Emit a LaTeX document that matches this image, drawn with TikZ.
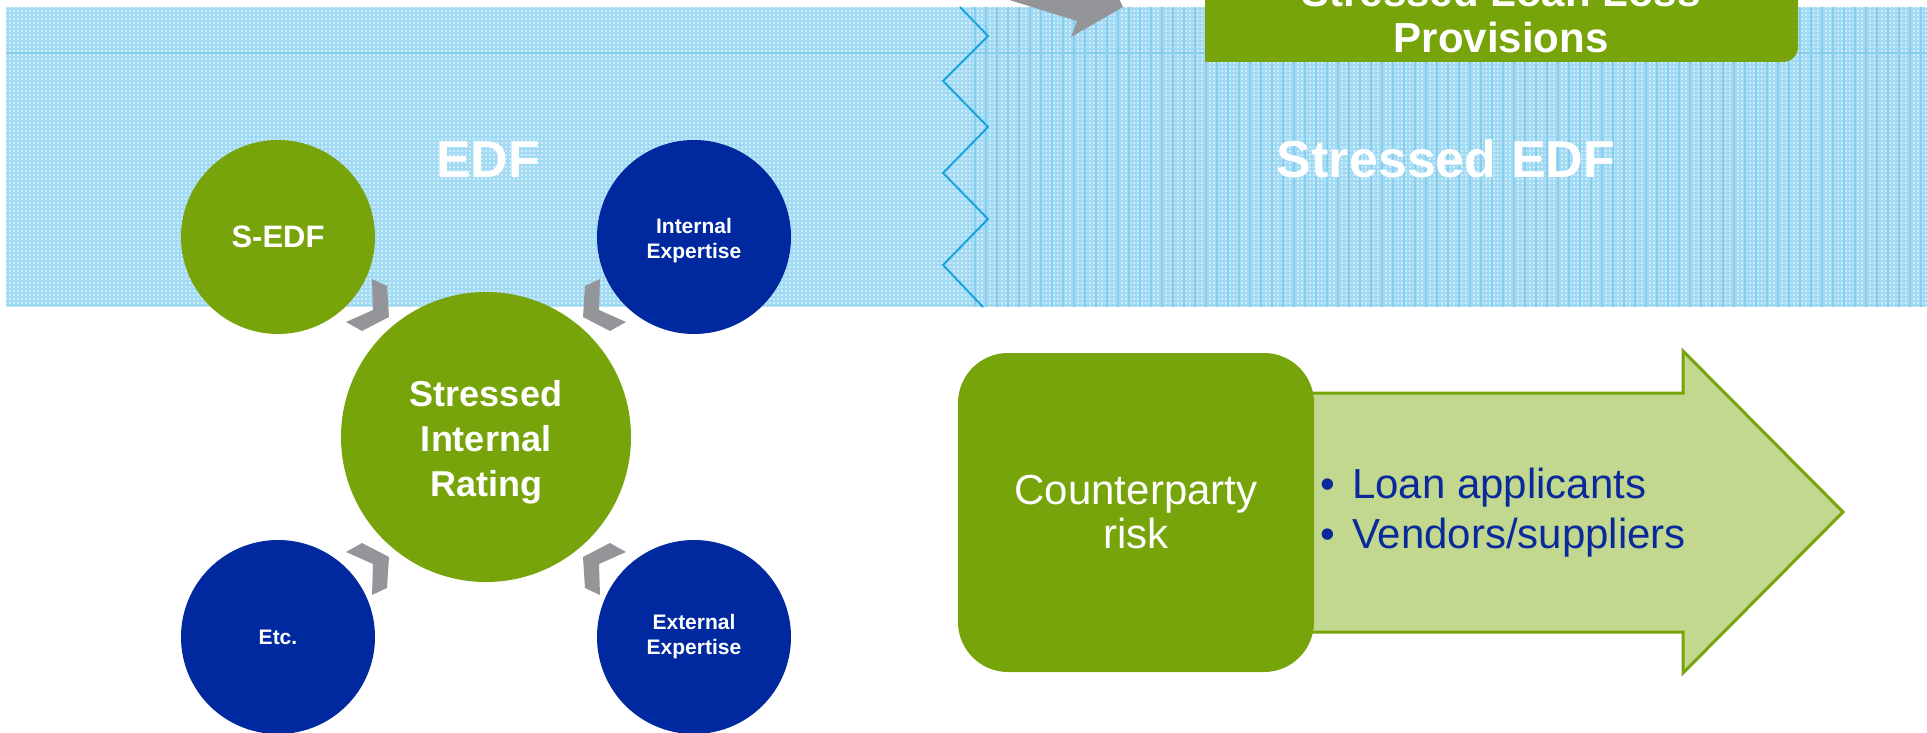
\documentclass[tikz,border=0pt]{standalone}
\usepackage{fontspec}
\setmainfont{Liberation Sans}
\definecolor{leaf}{HTML}{77A40A}
\definecolor{leaflight}{HTML}{C2D88F}
\definecolor{royal}{HTML}{0029A0}
\definecolor{ink}{HTML}{0A2A9C}
\definecolor{slate}{HTML}{939598}
\definecolor{skybase}{HTML}{CDEDFB}
\definecolor{skyline}{HTML}{A3DAF3}
\definecolor{skystripe}{HTML}{86CDEE}
\definecolor{zigblue}{HTML}{1AA3DF}
\begin{document}
\begin{tikzpicture}[x=0.5pt,y=-0.5pt,
  bubble/.style={circle, inner sep=0pt, minimum size=97pt, text=white, align=center},
  hub/.style={circle, inner sep=0pt, minimum size=145pt, fill=leaf, text=white, align=center,
    font=\fontsize{18}{22.5}\selectfont\bfseries},
  bandtitle/.style={anchor=base, inner sep=0pt, text=white, font=\fontsize{26}{31}\selectfont\bfseries},
  chevron/.pic={\fill[slate] (-114,-158) -- (-99,-151) -- (-97,-120) -- (-124,-106) -- (-140,-115) -- (-113,-127) -- cycle;},
  bullet/.style={anchor=base west, inner sep=0pt, text=ink, font=\fontsize{21}{25}\selectfont}]
\useasboundingbox (0,0) rectangle (1927,733);
\clip (0,0) rectangle (1927,733);

% checked background band
\fill[skybase] (6,7) rectangle (1927,307);
\foreach \x in {8,12,...,1924} \draw[skyline, line width=0.7pt] (\x,7) -- (\x,307);
\foreach \y in {9,13,...,305} \draw[skyline, line width=0.7pt] (6,\y) -- (1927,\y);
\foreach \x in {975,986,...,1927} \draw[skystripe, line width=0.6pt] (\x,7) -- (\x,307);
\draw[skystripe, line width=0.6pt] (6,53) -- (1927,53);

% zigzag divider
\draw[zigblue, line width=1pt, line join=miter] (960,7) -- (988,36) -- (943,81) -- (988,127) -- (943,173) -- (988,219) -- (943,265) -- (983,307);

% grey arrow into the provisions box
\fill[slate] (990,-20) -- (990,-6) -- (1077,21) -- (1071,37) -- (1123,7) -- (1110,-20) -- cycle;

% provisions box
\fill[leaf] (1205,-40) -- (1798,-40) -- (1798,47) arc[start angle=0, end angle=90, radius=15] -- (1205,62) -- cycle;
\node[inner sep=0pt, text=white, align=center, font=\fontsize{21}{23}\selectfont\bfseries] (provisions) at (1501,14.5) {Stressed Loan Loss\\Provisions};

% band titles
\node[bandtitle] (edf) at (488,177) {EDF};
\node[bandtitle] (stressededf) at (1446,177) {Stressed EDF};

% rating wheel
\node[hub] (rating) at (486,437) {\rule{0pt}{18pt}Stressed\\Internal\\Rating};
\node[bubble, fill=leaf, font=\fontsize{15.5}{18}\selectfont\bfseries] (sedf) at (278,237) {S-EDF};
\node[bubble, fill=royal, font=\fontsize{10.5}{12.5}\selectfont\bfseries] (internal) at (694,237) {\rule{0pt}{11pt}Internal\\Expertise};
\node[bubble, fill=royal, font=\fontsize{10.5}{12.5}\selectfont\bfseries] (etc) at (278,637) {Etc.};
\node[bubble, fill=royal, font=\fontsize{10.5}{12.5}\selectfont\bfseries] (external) at (694,637) {External\\Expertise};

\pic at (rating.center) {chevron};
\pic[xscale=-1] at (rating.center) {chevron};
\pic[yscale=-1] at (rating.center) {chevron};
\pic[xscale=-1, yscale=-1] at (rating.center) {chevron};

% counterparty arrow
\filldraw[fill=leaflight, draw=leaf, line width=1.5pt, line join=miter]
  (1290,393) -- (1683,393) -- (1683,351) -- (1843,512) -- (1683,673) -- (1683,632) -- (1290,632) -- cycle;
\node[rectangle, rounded corners=25pt, fill=leaf, minimum width=178pt, minimum height=159.5pt,
  text=white, align=center, font=\fontsize{21}{22}\selectfont] (counterparty) at (1136,512.5) {Counterparty\\risk};
\node[bullet] (loan) at (1320,498) {•\hspace{8.5pt}Loan applicants};
\node[bullet] (vendors) at (1320,548) {•\hspace{8.5pt}Vendors/suppliers};
\end{tikzpicture}
\end{document}
